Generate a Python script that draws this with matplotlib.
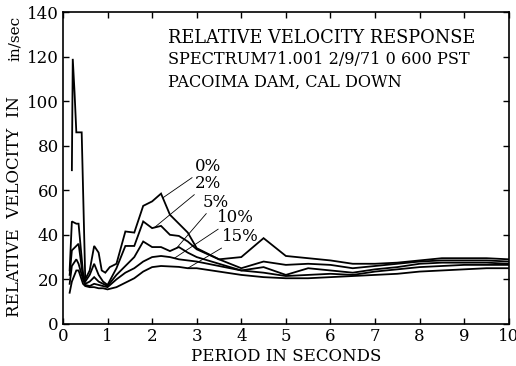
import numpy as np
import matplotlib
matplotlib.use('Agg')
import matplotlib.pyplot as plt

plt.rcParams['font.family'] = ['DejaVu Serif']

# 0% damping has its own period samples (it starts later, sharp peak)
periods_0 = [0.2, 0.22, 0.26, 0.3, 0.42, 0.5, 0.6, 0.7, 0.8, 0.87, 0.95, 1.05,
             1.2, 1.4, 1.6, 1.8, 2.0, 2.2, 2.4, 2.6, 2.8, 3.0, 3.5, 4.0, 4.5,
             5.0, 5.5, 6.0, 6.5, 7.0, 7.5, 8.0, 8.5, 9.0, 9.5, 10.0]
vel_0 = [69, 119, 104, 86, 86, 20, 24, 35, 32, 24, 23, 25.5,
         27, 41.5, 41, 53, 55, 58.5, 49, 45, 41, 34, 29, 30, 38.5,
         30.5, 29.5, 28.5, 27, 27, 27.5, 28.5, 29.5, 29.5, 29.5, 29]

periods = [0.15, 0.2, 0.3, 0.35, 0.45, 0.5, 0.6, 0.7, 0.8, 0.9, 1.0, 1.2,
           1.4, 1.6, 1.8, 2.0, 2.2, 2.4, 2.6, 2.8, 3.0, 3.5, 4.0, 4.5, 5.0,
           5.5, 6.0, 6.5, 7.0, 7.5, 8.0, 8.5, 9.0, 9.5, 10.0]
vel_2 = [24, 46, 45, 45, 23, 19, 22, 27, 22, 19, 17.5, 25,
         35, 35, 46, 43, 44, 40, 39.5, 37, 33.5, 29, 25, 28, 26.5,
         27, 26.5, 25, 26, 27, 28, 28.5, 28.5, 28.5, 28]
vel_5 = [22, 33, 35, 36, 21, 18, 19, 21, 19, 18, 17, 22,
         26, 30, 37, 34.5, 34.5, 32.7, 34.5, 32, 30, 27, 24, 25.5, 22,
         25, 24, 23, 24.5, 25.5, 27, 27.5, 27.5, 27.5, 27]
vel_10 = [18, 26, 29, 27, 20, 17.5, 17, 18, 17.5, 17, 16.5, 20,
          23, 25, 28, 30, 30.5, 30, 29, 28.5, 28, 26, 24, 23, 21.5,
          22, 22.5, 22, 23.5, 24.5, 25.5, 26, 26.5, 26.5, 26.5]
vel_15 = [14, 19, 24, 24, 18, 17, 16.5, 16.5, 16, 16, 15.5, 16.5,
          18.5, 20.5, 23.5, 25.5, 26, 25.8, 25.6, 25, 25, 23.5, 22, 21, 20.5,
          20.5, 21, 21.5, 22, 22.5, 23.5, 24, 24.5, 25, 25]

damping_labels = ['0%', '2%', '5%', '10%', '15%']
label_x = [2.96, 2.96, 3.14, 3.45, 3.57]
label_y = [66.8, 59.3, 50.8, 43.8, 35.3]
# period on each curve where the leader line ends
leader_at = [2.24, 2.05, 2.55, 2.5, 2.8]

title_lines = ['RELATIVE VELOCITY RESPONSE',
               'SPECTRUM71.001 2/9/71 0 600 PST',
               'PACOIMA DAM, CAL DOWN']
title_sizes = [12.8, 11.6, 11.6]

fig = plt.figure(figsize=(5.16, 3.66), dpi=100)
ax = fig.add_axes([0.122, 0.115, 0.864, 0.852])

curves = [(periods_0, vel_0), (periods, vel_2), (periods, vel_5),
          (periods, vel_10), (periods, vel_15)]
for p, v in curves:
    ax.plot(p, v, color='black', lw=1.3, solid_joinstyle='miter')

for i, lab in enumerate(damping_labels):
    p, v = curves[i]
    tx = leader_at[i]
    ty = np.interp(tx, p, v)
    ax.annotate(lab, xy=(tx, ty), xytext=(label_x[i], label_y[i]),
                fontsize=12, ha='left', va='bottom',
                arrowprops=dict(arrowstyle='-', lw=0.6, color='black',
                                shrinkA=0, shrinkB=0))

for i, line in enumerate(title_lines):
    ax.text(2.35, 128.5 - i * 10, line, fontsize=title_sizes[i],
            va='center', ha='left')

ax.set_xlim(0, 10)
ax.set_ylim(0, 140)
ax.set_xticks(range(0, 11))
ax.set_yticks(range(0, 141, 20))
ax.tick_params(direction='in', length=4, width=1, labelsize=12,
               top=True, right=True, pad=3)
for s in ax.spines.values():
    s.set_linewidth(1.2)

fig.text(0.028, 0.437, 'RELATIVE  VELOCITY  IN', rotation=90, fontsize=12,
         ha='center', va='center')
fig.text(0.028, 0.895, 'in/sec', rotation=90, fontsize=11,
         ha='center', va='center')
ax.set_xlabel('PERIOD IN SECONDS', fontsize=12, labelpad=2)

fig.savefig('out.png', dpi=100)
